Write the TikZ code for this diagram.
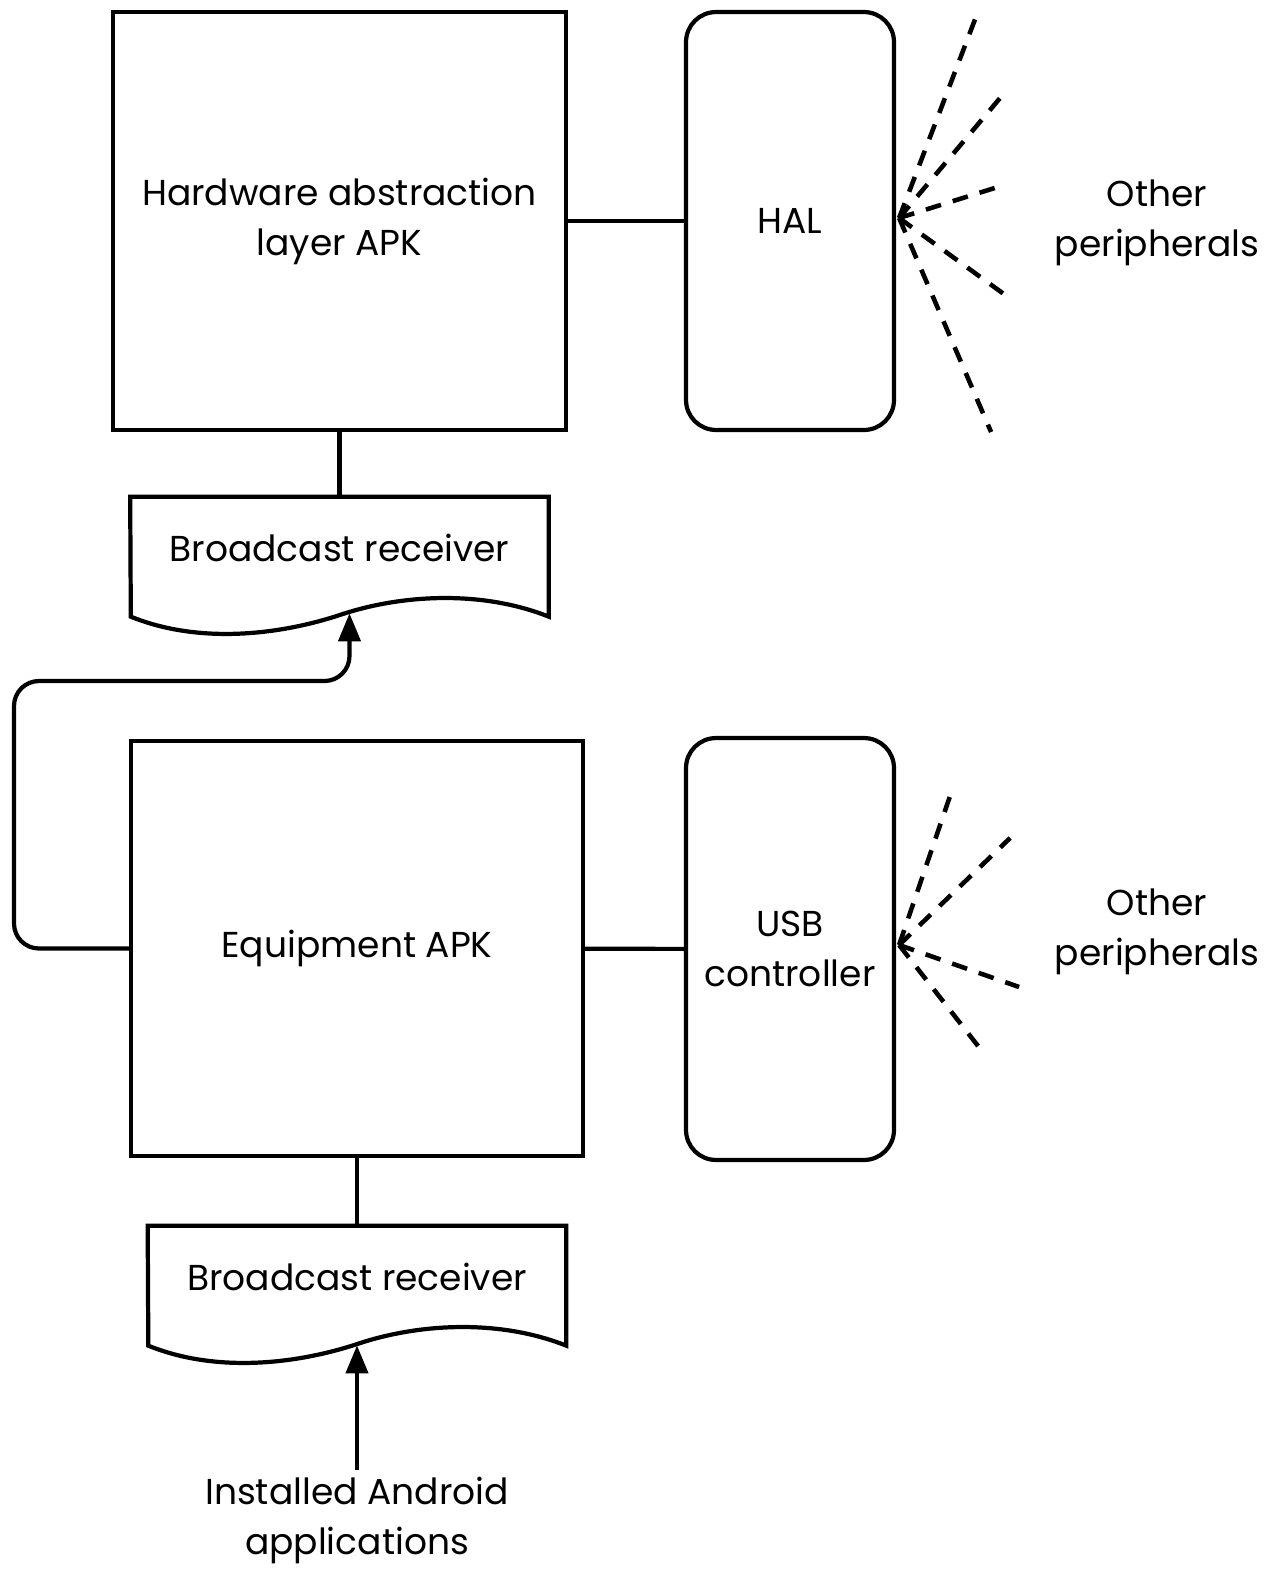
\documentclass[tikz,border=0pt]{standalone}
\usepackage{fontspec}
\setmainfont{Poppins}
\usetikzlibrary{arrows.meta, positioning, calc}

\begin{document}
\begin{tikzpicture}[
        x=0.02cm, y=-0.02cm,
        font=\fontsize{20.5}{28.5}\selectfont,
        line/.style={draw=black, line width=2.4pt},
        box/.style={line, rectangle, align=center, inner sep=0pt},
        rbox/.style={box, rounded corners=0.6cm, minimum width=4.16cm},
        wavebox/.style={rectangle, align=center, inner sep=0pt, minimum width=8.36cm, minimum height=2.04cm},
        arrow/.style={line, -{Triangle[length=0.56cm, width=0.44cm]}},
        ray/.style={draw=black, line width=2.6pt, dash pattern=on 9pt off 7pt}
    ]
        \useasboundingbox (0,0) rectangle (1273,1569);

        % upper half
        \node[box, minimum width=9.06cm, minimum height=8.36cm] (halapk) at (339.5,221) {Hardware abstraction\\layer APK};
        \node[rbox, minimum height=8.36cm] (hal) at (790,221) {HAL};
        \node[wavebox] (br1) at (339.5,548) {Broadcast receiver};
        \node[align=center] (otherhal) at (1157,223) {Other\\peripherals};

        % lower half
        \node[box, minimum width=9.04cm, minimum height=8.3cm] (eqapk) at (357,948.5) {Equipment APK};
        \node[rbox, minimum height=8.44cm] (usb) at (790,949) {USB\\controller};
        \node[wavebox] (br2) at (357,1277) {Broadcast receiver};
        \node[align=center] (otherusb) at (1157,932) {Other\\peripherals};
        \node[align=center] (apps) at (357,1520) {Installed Android\\applications};

        % receiver outlines
        \foreach \b in {br1,br2}
            \draw[line] (\b.north west) -- (\b.north east) -- ++(0,120)
                .. controls +(-68,-27) and +(60,-20) .. ++(-208,-2)
                .. controls +(-60,20) and +(69,28) .. ++(-210,2) -- cycle;

        \coordinate (br1in) at ($(br1.south)+(10,14)$);
        \coordinate (br2in) at ($(br2.south)+(0,17)$);
        \coordinate (loopturn) at (14,681);
        \coordinate (halhub) at ($(hal.east)+(3,-3)$);
        \coordinate (usbhub) at ($(usb.east)+(3,-4)$);

        \draw[line] (halapk) -- (hal);
        \draw[line] (halapk) -- (br1);
        \draw[line] (eqapk) -- (usb);
        \draw[line] (eqapk) -- (br2);
        \draw[arrow, rounded corners=0.5cm] (eqapk.west) -| (loopturn) -| (br1in);
        \draw[arrow] (apps) -- (br2in);

        % peripherals
        \foreach \dx/\dy in {78/-204, 101/-120, 102/-32, 113/82, 92/214}
            \draw[ray] (halhub) -- ++(\dx,\dy);
        \foreach \dx/\dy in {53/-155, 111/-107, 120/42, 86/110}
            \draw[ray] (usbhub) -- ++(\dx,\dy);
    \end{tikzpicture}
\end{document}
